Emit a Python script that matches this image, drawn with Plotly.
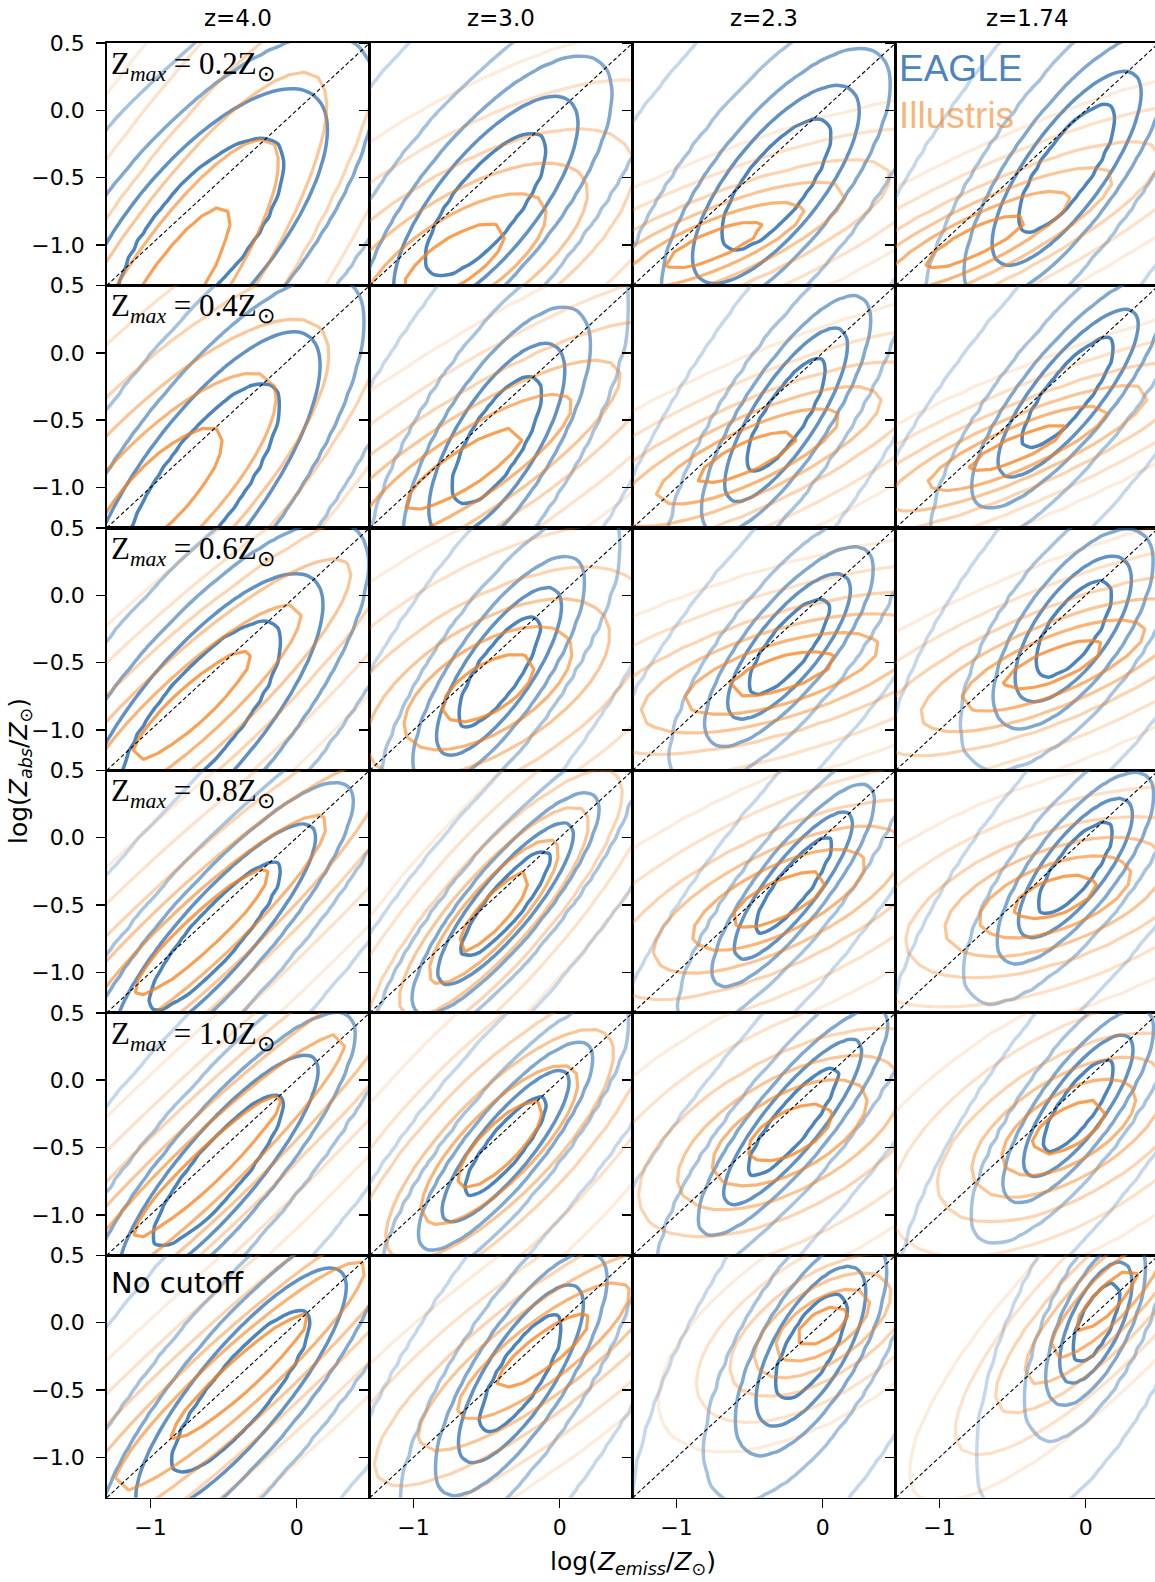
import numpy as np
import plotly.graph_objects as go

# ---------------- data ----------------
AX_RANGE = [-1.3, 0.5]
ONE_TO_ONE = [-1.3, 0.5]
COL_TITLES = ["z=4.0", "z=3.0", "z=2.3", "z=1.74"]
ROW_LABELS = ["Z<sub><i>max</i></sub> = 0.2Z<sub>⊙</sub>",
              "Z<sub><i>max</i></sub> = 0.4Z<sub>⊙</sub>",
              "Z<sub><i>max</i></sub> = 0.6Z<sub>⊙</sub>",
              "Z<sub><i>max</i></sub> = 0.8Z<sub>⊙</sub>",
              "Z<sub><i>max</i></sub> = 1.0Z<sub>⊙</sub>",
              "No cutoff"]
X_TICKS = [-1, 0]
X_TICKTEXT = ["−1", "0"]
Y_TICKS = [0.5, 0.0, -0.5, -1.0]
Y_TICKTEXT = ["0.5", "0.0", "−0.5", "−1.0"]

# EAGLE distribution: centre, spread of innermost contour, correlation (rows x cols)
EAGLE_MX = [[-0.66, -0.505, -0.32, -0.13],
            [-0.65, -0.43, -0.25, -0.12],
            [-0.66, -0.415, -0.23, -0.085],
            [-0.56, -0.37, -0.20, -0.07],
            [-0.535, -0.37, -0.205, -0.05],
            [-0.38, -0.265, -0.08, 0.07]]
EAGLE_MY = [[-0.92, -0.70, -0.55, -0.43],
            [-0.97, -0.65, -0.46, -0.30],
            [-0.89, -0.565, -0.38, -0.25],
            [-0.73, -0.49, -0.355, -0.225],
            [-0.67, -0.49, -0.31, -0.19],
            [-0.51, -0.38, -0.175, 0.0]]
EAGLE_SX = [[0.58, 0.42, 0.38, 0.34],
            [0.54, 0.31, 0.28, 0.32],
            [0.56, 0.285, 0.28, 0.265],
            [0.46, 0.31, 0.27, 0.26],
            [0.455, 0.29, 0.315, 0.25],
            [0.48, 0.285, 0.25, 0.165]]
EAGLE_SY = [[0.72, 0.536, 0.49, 0.48],
            [0.75, 0.48, 0.43, 0.415],
            [0.70, 0.415, 0.36, 0.36],
            [0.555, 0.40, 0.365, 0.345],
            [0.57, 0.375, 0.41, 0.35],
            [0.61, 0.44, 0.395, 0.30]]
EAGLE_RHO = [[0.72, 0.75, 0.74, 0.78],
             [0.78, 0.72, 0.80, 0.82],
             [0.78, 0.78, 0.78, 0.68],
             [0.88, 0.86, 0.85, 0.77],
             [0.87, 0.85, 0.86, 0.80],
             [0.85, 0.78, 0.68, 0.66]]

# Illustris distribution
ILLUSTRIS_MX = [[-0.86, -0.72, -0.745, -0.75],
                [-0.95, -0.65, -0.51, -0.47],
                [-0.72, -0.49, -0.28, -0.22],
                [-0.65, -0.45, -0.30, -0.21],
                [-0.61, -0.41, -0.225, -0.115],
                [-0.39, -0.11, 0.0, 0.144]]
ILLUSTRIS_MY = [[-1.33, -1.12, -1.0, -0.97],
                [-1.05, -0.86, -0.77, -0.71],
                [-0.82, -0.69, -0.58, -0.52],
                [-0.70, -0.55, -0.46, -0.44],
                [-0.64, -0.48, -0.39, -0.35],
                [-0.40, -0.21, -0.02, 0.17]]
ILLUSTRIS_SX = [[0.41, 0.35, 0.345, 0.36],
                [0.45, 0.41, 0.35, 0.345],
                [0.42, 0.32, 0.37, 0.35],
                [0.48, 0.25, 0.33, 0.29],
                [0.53, 0.30, 0.295, 0.255],
                [0.48, 0.33, 0.18, 0.216]]
ILLUSTRIS_SY = [[0.62, 0.28, 0.18, 0.21],
                [0.50, 0.31, 0.20, 0.18],
                [0.42, 0.255, 0.17, 0.19],
                [0.485, 0.30, 0.21, 0.17],
                [0.55, 0.33, 0.22, 0.20],
                [0.475, 0.285, 0.15, 0.24]]
ILLUSTRIS_RHO = [[0.85, 0.70, 0.80, 0.85],
                 [0.80, 0.85, 0.80, 0.85],
                 [0.90, 0.60, 0.65, 0.75],
                 [0.93, 0.85, 0.70, 0.55],
                 [0.95, 0.80, 0.60, 0.60],
                 [0.94, 0.85, 0.60, 0.85]]

# contour levels, expressed as Mahalanobis radius of each drawn level
EAGLE_LEVEL_RADII = [1.0, 1.5, 2.05, 2.9, 5.0]
ILLUSTRIS_LEVEL_RADII = [1.0, 1.8, 2.6, 3.5, 4.8, 6.3]

# ---------------- style ----------------
W, H = 1155, 1582
NROWS, NCOLS = 6, 4
LEFT_PX, TOP_PX = 106.7, 43.0
PW, PH = 263.0, 242.45
BLUE = (45, 110, 175)
ORANGE = (245, 130, 30)
BLUE_ALPHAS = [0.85, 0.75, 0.6, 0.42, 0.28]
ORANGE_ALPHAS = [0.75, 0.6, 0.46, 0.34, 0.24, 0.16]
TICKFONT = dict(family="DejaVu Sans", size=22, color="black")


def rgba(c, a):
    return "rgba(%d,%d,%d,%.3f)" % (c[0], c[1], c[2], a)


def level_field(gx, gy, mx, my, sx, sy, rho, radii):
    X, Y = np.meshgrid(gx, gy)
    dx = (X - mx) / sx
    dy = (Y - my) / sy
    r = np.sqrt((dx * dx - 2 * rho * dx * dy + dy * dy) / (1 - rho * rho))
    n = len(radii)
    rr = [0.0] + list(radii) + [100.0]
    zz = [0.0] + list(range(1, n + 1)) + [n + 100.0 - radii[-1]]
    return np.interp(r, rr, zz)


def colorscale(base, alphas):
    n = len(alphas)
    return [[k / (n - 1), rgba(base, alphas[k])] for k in range(n)]


fig = go.Figure()
layout = dict()

grid_b = np.arange(-1.75, 0.96, 0.06)
grid_o = np.arange(-1.75, 0.96, 0.1)

for r in range(NROWS):
    for c in range(NCOLS):
        n = r * NCOLS + c + 1
        xs = "x" if n == 1 else "x%d" % n
        ys = "y" if n == 1 else "y%d" % n
        zb = level_field(grid_b, grid_b, EAGLE_MX[r][c], EAGLE_MY[r][c], EAGLE_SX[r][c],
                         EAGLE_SY[r][c], EAGLE_RHO[r][c], EAGLE_LEVEL_RADII)
        fig.add_trace(go.Contour(
            x=grid_b, y=grid_b, z=zb, xaxis=xs, yaxis=ys,
            autocontour=False,
            contours=dict(start=1, end=len(EAGLE_LEVEL_RADII), size=1, coloring="lines"),
            colorscale=colorscale(BLUE, BLUE_ALPHAS), showscale=False,
            line=dict(width=3.5, smoothing=0.9), hoverinfo="skip", showlegend=False))
        zo = level_field(grid_o, grid_o, ILLUSTRIS_MX[r][c], ILLUSTRIS_MY[r][c], ILLUSTRIS_SX[r][c],
                         ILLUSTRIS_SY[r][c], ILLUSTRIS_RHO[r][c], ILLUSTRIS_LEVEL_RADII)
        fig.add_trace(go.Contour(
            x=grid_o, y=grid_o, z=zo, xaxis=xs, yaxis=ys,
            autocontour=False,
            contours=dict(start=1, end=len(ILLUSTRIS_LEVEL_RADII), size=1, coloring="lines"),
            colorscale=colorscale(ORANGE, ORANGE_ALPHAS), showscale=False,
            line=dict(width=3.2, smoothing=0), hoverinfo="skip", showlegend=False))
        fig.add_trace(go.Scatter(x=ONE_TO_ONE, y=ONE_TO_ONE, xaxis=xs, yaxis=ys, mode="lines",
                                 line=dict(color="black", width=1.1, dash="4px,2.5px"),
                                 hoverinfo="skip", showlegend=False))

        x0 = (LEFT_PX + PW * c) / W
        x1 = min((LEFT_PX + PW * (c + 1)) / W, 1.0)
        xr_end = AX_RANGE[0] + (W - (LEFT_PX + PW * c)) / PW * (AX_RANGE[1] - AX_RANGE[0]) \
            if (LEFT_PX + PW * (c + 1)) > W else AX_RANGE[1]
        ytop = TOP_PX + PH * r
        y1 = 1 - ytop / H
        y0 = 1 - (ytop + PH) / H
        bottom = (r == NROWS - 1)
        layout["xaxis" if n == 1 else "xaxis%d" % n] = dict(
            domain=[x0, x1], range=[AX_RANGE[0], xr_end], anchor=ys, automargin=False,
            showgrid=False, zeroline=False, showline=True, linecolor="black", linewidth=1.6,
            mirror=True, ticks="outside" if bottom else "", ticklen=9, tickwidth=1.5,
            tickcolor="black", tickvals=X_TICKS, ticktext=X_TICKTEXT,
            showticklabels=bottom, tickfont=TICKFONT, fixedrange=True)
        layout["yaxis" if n == 1 else "yaxis%d" % n] = dict(
            domain=[y0, y1], range=AX_RANGE, anchor=xs, automargin=False,
            showgrid=False, zeroline=False, showline=True, linecolor="black", linewidth=1.6,
            mirror=(c < NCOLS - 1), ticks="outside", ticklen=9, tickwidth=1.5,
            tickcolor="black", tickvals=Y_TICKS, ticktext=Y_TICKTEXT, ticklabelstandoff=7,
            showticklabels=(c == 0), tickfont=TICKFONT, fixedrange=True)

annotations = []
for c, t in enumerate(COL_TITLES):
    annotations.append(dict(text=t, x=(LEFT_PX + PW * c + PW / 2) / W, y=1 - 18 / H,
                            xref="paper", yref="paper", showarrow=False,
                            xanchor="center", yanchor="middle",
                            font=dict(family="DejaVu Sans", size=23, color="black")))
for r, t in enumerate(ROW_LABELS):
    last = (r == NROWS - 1)
    annotations.append(dict(text=t, x=109 / W, y=1 - (TOP_PX + PH * r + (28 if last else 23)) / H,
                            xref="paper", yref="paper", showarrow=False,
                            xanchor="left", yanchor="middle",
                            font=dict(family="DejaVu Sans" if last else "Liberation Serif",
                                      size=29 if last else 31, color="black")))
annotations.append(dict(text="EAGLE", x=897 / W, y=1 - 69 / H, xref="paper", yref="paper",
                        showarrow=False, xanchor="left", yanchor="middle",
                        font=dict(family="Liberation Sans", size=37, color=rgba(BLUE, 0.85))))
annotations.append(dict(text="Illustris", x=897 / W, y=1 - 115 / H, xref="paper", yref="paper",
                        showarrow=False, xanchor="left", yanchor="middle",
                        font=dict(family="Liberation Sans", size=37, color=rgba(ORANGE, 0.6))))
annotations.append(dict(text="log(<i>Z</i><sub><i>emiss</i></sub>/<i>Z</i><sub>⊙</sub>)",
                        x=632.7 / W, y=1 - 1563 / H, xref="paper", yref="paper",
                        showarrow=False, xanchor="center", yanchor="middle",
                        font=dict(family="DejaVu Sans", size=25, color="black")))
annotations.append(dict(text="log(<i>Z</i><sub><i>abs</i></sub>/<i>Z</i><sub>⊙</sub>)",
                        x=20 / W, y=1 - 771 / H, xref="paper", yref="paper", textangle=-90,
                        showarrow=False, xanchor="center", yanchor="middle",
                        font=dict(family="DejaVu Sans", size=25, color="black")))

fig.update_layout(**layout)
fig.update_layout(width=W, height=H, autosize=False,
                  margin=dict(l=0, r=0, t=0, b=0, pad=0, autoexpand=False),
                  paper_bgcolor="white", plot_bgcolor="white",
                  annotations=annotations, showlegend=False)

fig.write_html("out.html", config=dict(displayModeBar=False, staticPlot=True),
               post_script="document.body.style.margin='0';document.body.style.overflow='hidden';")
